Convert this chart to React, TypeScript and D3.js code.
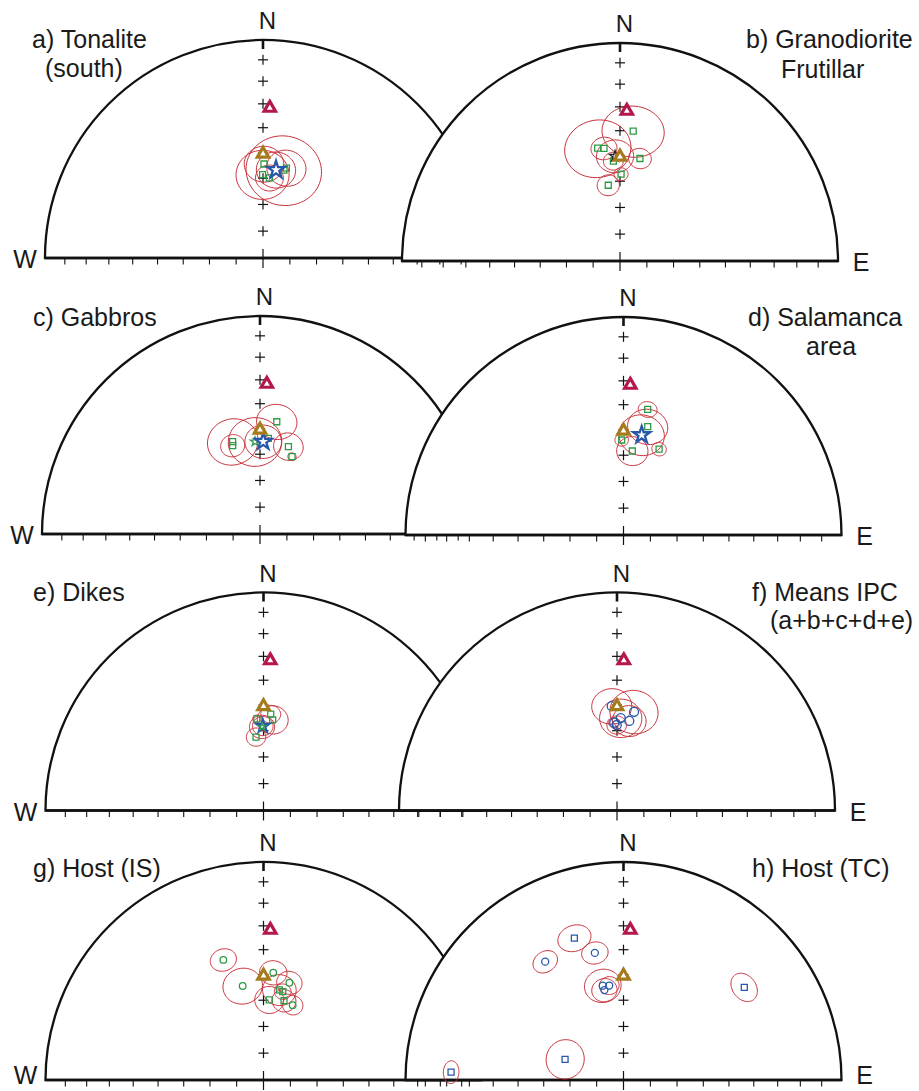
import React from 'react';
import * as d3 from 'd3';

type Dir = { dec: number; inc: number; a95: number };

// reference directions drawn in every net
const expectedDir = { dec: 2.6, inc: 31.7 };
const fieldDir = { dec: 0, inc: 50.5 };

// 10 degree graduations along the axes
const gradInc = [10, 20, 30, 40, 50, 60, 70, 80];

// a) Tonalite (south)
const tonaliteSites: Dir[] = [
  { dec: 0.6, inc: 54.5, a95: 7 },
  { dec: 14.6, inc: 54.9, a95: 7 },
  { dec: 359.7, inc: 58.6, a95: 9.5 },
  { dec: 4.6, inc: 59.8, a95: 5 },
  { dec: 13.4, inc: 55.9, a95: 13.5 },
];
const tonaliteMean: Dir[] = [{ dec: 8.4, inc: 56.4, a95: 7 }];

// b) Granodiorite Frutillar
const frutillarSites: Dir[] = [
  { dec: 5.8, inc: 39.9, a95: 10.5 },
  { dec: 348.8, inc: 46.2, a95: 11.5 },
  { dec: 351.9, inc: 46.7, a95: 4.5 },
  { dec: 356.2, inc: 52.1, a95: 3.5 },
  { dec: 11.0, inc: 50.4, a95: 4 },
  { dec: 0.7, inc: 57.3, a95: 2.5 },
  { dec: 351.2, inc: 61.2, a95: 4 },
];
const frutillarMean: Dir[] = [{ dec: 357.3, inc: 50.2, a95: 6.5 }];

// c) Gabbros
const gabbroSites: Dir[] = [
  { dec: 8.5, inc: 46.8, a95: 7 },
  { dec: 343.5, inc: 53.6, a95: 9 },
  { dec: 342.8, inc: 55.1, a95: 4.3 },
  { dec: 18.0, inc: 55.3, a95: 5.3 },
  { dec: 22.5, inc: 58.5, a95: 1.5 },
  { dec: 5.0, inc: 53.7, a95: 0 },
];
const gabbroSubMean: Dir[] = [{ dec: 356.9, inc: 55.1, a95: 9.5 }];
const gabbroMean: Dir[] = [{ dec: 2.0, inc: 55.1, a95: 6.5 }];

// d) Salamanca area
const salamancaSites: Dir[] = [
  { dec: 10.9, inc: 41.0, a95: 3.2 },
  { dec: 12.6, inc: 47.8, a95: 7 },
  { dec: 358.9, inc: 54.1, a95: 2.4 },
  { dec: 6.0, inc: 58.2, a95: 5.6 },
  { dec: 22.5, inc: 54.9, a95: 2.6 },
];
const salamancaMean: Dir[] = [{ dec: 10.3, inc: 51.5, a95: 8 }];

// e) Dikes
const dikeSites: Dir[] = [
  { dec: 355.8, inc: 55.3, a95: 1.5 },
  { dec: 4.3, inc: 53.5, a95: 3.5 },
  { dec: 5.8, inc: 55.6, a95: 5.5 },
  { dec: 354.2, inc: 62.3, a95: 3.5 },
];
const dikeSubMean: Dir[] = [{ dec: 359, inc: 58.5, a95: 4.5 }];
const dikeMean: Dir[] = [{ dec: 359.5, inc: 58.2, a95: 3.7 }];

// f) Means IPC (a+b+c+d+e)
const ipcMeans: Dir[] = [
  { dec: 357.1, inc: 50.4, a95: 7 },
  { dec: 2.3, inc: 55.1, a95: 7.5 },
  { dec: 358.2, inc: 56.9, a95: 2 },
  { dec: 359.8, inc: 57.8, a95: 3.5 },
  { dec: 7.8, inc: 55.9, a95: 6 },
  { dec: 9.8, inc: 52.1, a95: 8.5 },
];

// g) Host (IS)
const hostIsCircles: Dir[] = [
  { dec: 341.5, inc: 41.5, a95: 4.5 },
  { dec: 347.5, inc: 53.6, a95: 7 },
  { dec: 5.2, inc: 49.1, a95: 4.8 },
  { dec: 14.9, inc: 51.9, a95: 4.5 },
  { dec: 21.3, inc: 59.8, a95: 3.7 },
];
const hostIsSquares: Dir[] = [
  { dec: 10.0, inc: 55.5, a95: 6 },
  { dec: 4.1, inc: 59.8, a95: 5.2 },
  { dec: 14.5, inc: 59.2, a95: 4.3 },
  { dec: 12.3, inc: 55.9, a95: 3 },
];

// h) Host (TC)
const hostTcSquares: Dir[] = [
  { dec: 340.9, inc: 31.7, a95: 5.5 },
  { dec: 52.5, inc: 30.8, a95: 5 },
  { dec: 289.5, inc: 66.8, a95: 7.2 },
  { dec: 272.6, inc: 21.9, a95: 3.5 },
];
const hostTcCircles: Dir[] = [
  { dec: 326.5, inc: 35.2, a95: 4.3 },
  { dec: 347.3, inc: 40, a95: 4.5 },
  { dec: 347.6, inc: 53.5, a95: 6.5 },
  { dec: 351.4, inc: 53.9, a95: 3.5 },
  { dec: 348, inc: 55.3, a95: 4.5 },
];

const RED = '#b3174b';
const GOLD = '#a57b1d';
const GREEN = '#2f9a45';
const BLUE = '#2758ab';
const CONE = '#c8303b';
const FONT = "'Liberation Sans', Arial, sans-serif";
const R = 218;

type Shape = 'square' | 'circle' | 'star';
type SetDef = { data: Dir[]; shape: Shape; color: string; size: number; width: number };
type Panel = {
  cx: number;
  cy: number;
  side: 'left' | 'right';
  title: string[];
  tx: number[];
  ty: number[];
  sets: SetDef[];
};

const sq = (data: Dir[], color = GREEN): SetDef => ({ data, shape: 'square', color, size: 36, width: 1.3 });
const ci = (data: Dir[], color: string, size: number): SetDef => ({ data, shape: 'circle', color, size, width: 1.3 });
const st = (data: Dir[], color: string, size: number, width: number): SetDef => ({ data, shape: 'star', color, size, width });

const panels: Panel[] = [
  { cx: 263, cy: 258, side: 'left', title: ['a) Tonalite', '(south)'], tx: [32, 45], ty: [48, 77],
    sets: [sq(tonaliteSites), st(tonaliteMean, BLUE, 92, 2.3)] },
  { cx: 620, cy: 261, side: 'right', title: ['b) Granodiorite', 'Frutillar'], tx: [746, 781], ty: [48, 78],
    sets: [sq(frutillarSites), st(frutillarMean, '#222', 38, 1.3)] },
  { cx: 260, cy: 534, side: 'left', title: ['c) Gabbros'], tx: [33], ty: [326],
    sets: [sq(gabbroSites), st(gabbroSubMean, GREEN, 26, 1.3), st(gabbroMean, BLUE, 84, 2.3)] },
  { cx: 623.5, cy: 535, side: 'right', title: ['d) Salamanca', 'area'], tx: [748, 806], ty: [326, 355],
    sets: [sq(salamancaSites), st(salamancaMean, BLUE, 88, 2.3)] },
  { cx: 263.5, cy: 810.5, side: 'left', title: ['e) Dikes'], tx: [33], ty: [601],
    sets: [sq(dikeSites), st(dikeMean, BLUE, 54, 2.1), st(dikeSubMean, GREEN, 18, 1.2)] },
  { cx: 617, cy: 810.5, side: 'right', title: ['f) Means IPC', '(a+b+c+d+e)'], tx: [752, 770], ty: [601, 629],
    sets: [ci(ipcMeans, BLUE, 4.5)] },
  { cx: 263.5, cy: 1080, side: 'left', title: ['g) Host (IS)'], tx: [33], ty: [877],
    sets: [ci(hostIsCircles, GREEN, 3.3), sq(hostIsSquares)] },
  { cx: 623.5, cy: 1080, side: 'right', title: ['h) Host (TC)'], tx: [752], ty: [877],
    sets: [sq(hostTcSquares, BLUE), ci(hostTcCircles, BLUE, 3.5)] },
];

const rad = Math.PI / 180;

// small circle of radius a95 around a direction, as [dec, inc] pairs
function cone(d: Dir): [number, number][] {
  const D = d.dec * rad, I = d.inc * rad, a = d.a95 * rad;
  const v = [Math.cos(I) * Math.cos(D), Math.cos(I) * Math.sin(D), Math.sin(I)];
  const e1 = [-Math.sin(I) * Math.cos(D), -Math.sin(I) * Math.sin(D), Math.cos(I)];
  const e2 = [-Math.sin(D), Math.cos(D), 0];
  return d3.range(0, 73).map((k) => {
    const t = (k / 72) * 2 * Math.PI;
    const p = [0, 1, 2].map((j) => Math.cos(a) * v[j] + Math.sin(a) * (Math.cos(t) * e1[j] + Math.sin(t) * e2[j]));
    return [Math.atan2(p[1], p[0]) / rad, Math.asin(p[2]) / rad] as [number, number];
  });
}

function Net({ p }: { p: Panel }) {
  const proj = d3
    .geoAzimuthalEqualArea()
    .rotate([0, -90])
    .reflectY(true)
    .scale(R / Math.SQRT2)
    .translate([p.cx, p.cy]);
  const pt = (dec: number, inc: number) => proj([dec, inc]) as [number, number];

  const outline = d3.path();
  outline.moveTo(p.cx - R, p.cy);
  outline.arc(p.cx, p.cy, R, Math.PI, 2 * Math.PI);
  outline.closePath();

  const line = d3.line();
  const symSquare = d3.symbol().type(d3.symbolSquare);
  const symStar = d3.symbol().type(d3.symbolStar);
  const symTri = d3.symbol().type(d3.symbolTriangle).size(56)();

  const baseTicks = gradInc.flatMap((i) => [pt(90, i), pt(270, i)]);
  const crosses = gradInc.map((i) => pt(0, i));
  const exp = pt(expectedDir.dec, expectedDir.inc);
  const fld = pt(fieldDir.dec, fieldDir.inc);

  return (
    <g>
      <path d={outline.toString()} fill="#fff" stroke="#111" strokeWidth={2.3} />
      <line x1={p.cx - R} x2={p.cx + R} y1={p.cy} y2={p.cy} stroke="#111" strokeWidth={2.4} />
      {baseTicks.map(([x, y], i) => (
        <line key={'b' + i} x1={x} x2={x} y1={y} y2={y + 6.5} stroke="#111" strokeWidth={1.1} />
      ))}
      <line x1={p.cx} x2={p.cx} y1={p.cy - 9} y2={p.cy + 10} stroke="#111" strokeWidth={1.2} />
      <line x1={p.cx} x2={p.cx} y1={p.cy - R} y2={p.cy - R + 9} stroke="#111" strokeWidth={2.6} />
      {crosses.map(([x, y], i) => (
        <g key={'c' + i} stroke="#111" strokeWidth={1.2}>
          <line x1={x - 5} x2={x + 5} y1={y} y2={y} />
          <line x1={x} x2={x} y1={y - 5} y2={y + 5} />
        </g>
      ))}
      {p.sets.flatMap((s, si) =>
        s.data
          .filter((d) => d.a95 > 0)
          .map((d, i) => (
            <path key={`e${si}-${i}`} d={line(cone(d).map(([dc, ic]) => pt(dc, ic))) || ''} fill="none" stroke={CONE} strokeWidth={1} />
          ))
      )}
      {p.sets.map((s, si) =>
        s.data.map((d, i) => {
          const [x, y] = pt(d.dec, d.inc);
          if (s.shape === 'circle')
            return <circle key={`s${si}-${i}`} cx={x} cy={y} r={s.size} fill="none" stroke={s.color} strokeWidth={s.width} />;
          const dd = s.shape === 'square' ? symSquare.size(s.size)() : symStar.size(s.size)();
          return (
            <path key={`s${si}-${i}`} d={dd || ''} transform={`translate(${x},${y})`} fill={s.shape === 'star' && s.color === BLUE ? '#fff' : 'none'} stroke={s.color} strokeWidth={s.width} />
          );
        })
      )}
      <path d={symTri || ''} transform={`translate(${fld[0]},${fld[1]})`} fill="#fff" stroke={GOLD} strokeWidth={3.2} />
      <path d={symTri || ''} transform={`translate(${exp[0]},${exp[1]})`} fill="#fff" stroke={RED} strokeWidth={3.2} />
    </g>
  );
}

function Labels({ p }: { p: Panel }) {
  const wy = Math.min(p.cy + 10, 1084);
  return (
    <g fontFamily={FONT} fill="#1a1a1a">
      <text x={p.cx + 4.5} y={p.cy - R - 11} fontSize={24} textAnchor="middle">N</text>
      {p.side === 'left' ? (
        <text x={p.cx - R - 20} y={wy} fontSize={25} textAnchor="middle">W</text>
      ) : (
        <text x={p.cx + R + 23} y={wy} fontSize={25} textAnchor="middle">E</text>
      )}
      {p.title.map((t, i) => (
        <text key={i} x={p.tx[i]} y={p.ty[i]} fontSize={25}>{t}</text>
      ))}
    </g>
  );
}

export default function App() {
  return (
    <svg width={919} height={1091} style={{ position: 'absolute', left: 0, top: 0, background: '#fff' }}>
      <rect width={919} height={1091} fill="#fff" />
      {panels.map((p, i) => (
        <Net key={i} p={p} />
      ))}
      {panels.map((p, i) => (
        <Labels key={'l' + i} p={p} />
      ))}
    </svg>
  );
}
